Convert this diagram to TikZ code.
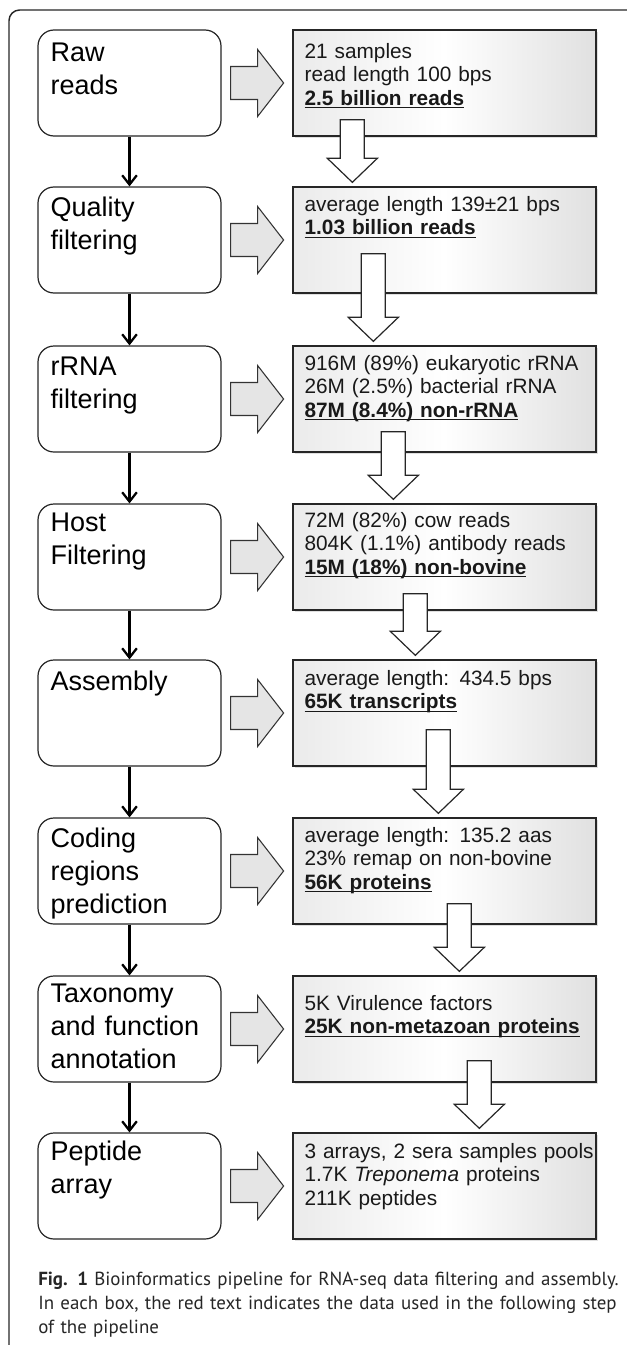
\documentclass[tikz,border=0pt]{standalone}
\usepackage{fontspec}
\setmainfont{Liberation Sans}
\newfontfamily\capfont{PT Sans}
\usetikzlibrary{calc,shadows,arrows.meta}

% bold text with a heavy underline
\newcommand{\keyline}[1]{\leavevmode\setbox0\hbox{\bfseries #1}\rlap{\rule[-2.4pt]{\wd0}{1.1pt}}\box0}
\newcommand{\stepfont}{\fontsize{20.25pt}{24.75pt}\selectfont}
\newcommand{\datafont}{\fontsize{15.6pt}{17.6pt}\selectfont}

\begin{document}
\begin{tikzpicture}[x=0.75pt,y=-0.75pt,
  frame/.style={draw=black!85, line width=1.1pt, rounded corners=8pt},
  stepbox/.style={draw=black!85, line width=0.9pt, rounded corners=12pt,
    minimum width=137.25pt, minimum height=79.5pt, inner sep=0pt, fill=white},
  databox/.style={draw=black!85, line width=1pt,
    minimum width=227.25pt, minimum height=79.5pt, inner sep=0pt,
    left color=black!8, right color=black!12, middle color=white,
    drop shadow={shadow xshift=1.8pt, shadow yshift=-1.8pt, opacity=0.25}},
  steptext/.style={anchor=base west, inner sep=0pt, font=\stepfont,
    text width=130pt, align=left},
  datatext/.style={anchor=base west, inner sep=0pt, font=\datafont,
    text width=260pt, align=left, text=black!90},
  flowarrow/.style={draw=black, line width=1.7pt,
    -{Straight Barb[length=7pt, width=11pt]}},
  grayarrow/.style={fill=black!10, draw=black!80, line width=0.8pt, line join=miter},
  whitearrow/.style={fill=white, draw=black!85, line width=0.9pt, line join=miter}
]
\useasboundingbox (0,0) rectangle (627,1345);

% outer frame, open towards the right and the bottom
\draw[frame] (9,1400) -- (9,10) -- (700,10);

% the eight pipeline steps and their data boxes
\foreach \t [count=\i] in {30,187,346,504,660,818,976,1133}{
  \node[stepbox] (L\i) at (129.5,\t+53) {};
  \node[databox] (R\i) at (444.5,\t+53) {};
}

% step-to-step arrows
\foreach \i in {1,...,7}{
  \pgfmathtruncatemacro{\j}{\i+1}
  \draw[flowarrow] (L\i.south) -- (L\j.north);
}

% grey block arrows from each step to its data box
\foreach \i in {1,...,8}{
  \draw[grayarrow] ($(L\i.east)+(9,-16.5)$) -- ++(27,0) -- ++(0,-17)
    -- ($(L\i.east)+(62,0)$) -- ($(L\i.east)+(36,33.5)$) -- ++(0,-17)
    -- ($(L\i.east)+(9,16.5)$) -- cycle;
}

% white block arrows carrying the data down to the next box
\foreach \i/\dx/\off in {1/60/17,2/81/40,3/101/21,4/123/17,5/146/37,6/167/21,7/187/22}{
  \pgfmathtruncatemacro{\j}{\i+1}
  \draw[whitearrow] ($(R\i.south west)+(\dx-12,-\off)$)
    -- ($(R\i.south west)+(\dx+12,-\off)$)
    -- ($(R\j.north west)+(\dx+12,-28)$)
    -- ($(R\j.north west)+(\dx+25,-28)$)
    -- ($(R\j.north west)+(\dx,-4)$)
    -- ($(R\j.north west)+(\dx-25,-28)$)
    -- ($(R\j.north west)+(\dx-12,-28)$) -- cycle;
}

% step names
\node[steptext] (s1) at ($(L1.north west)+(13,32)$) {Raw\\reads};
\node[steptext] (s2) at ($(L2.north west)+(13,30)$) {Quality\\filtering};
\node[steptext] (s3) at ($(L3.north west)+(13,30)$) {rRNA\\filtering};
\node[steptext] (s4) at ($(L4.north west)+(13,28)$) {Host\\Filtering};
\node[steptext] (s5) at ($(L5.north west)+(13,31)$) {Assembly};
\node[steptext] (s6) at ($(L6.north west)+(13,30)$) {Coding\\regions\\prediction};
\node[steptext] (s7) at ($(L7.north west)+(13,27)$) {Taxonomy\\and function\\annotation};
\node[steptext] (s8) at ($(L8.north west)+(13,28)$) {Peptide\\array};

% data figures
\node[datatext] (d1) at ($(R1.north west)+(12,29)$)
  {21 samples\\read length 100 bps\\\keyline{2.5 billion reads}};
\node[datatext] (d2) at ($(R2.north west)+(12,25)$)
  {average length 139±21 bps\\\keyline{1.03 billion reads}};
\node[datatext] (d3) at ($(R3.north west)+(12,25)$)
  {916M (89\%) eukaryotic rRNA\\26M (2.5\%) bacterial rRNA\\\keyline{87M (8.4\%) non-rRNA}};
\node[datatext] (d4) at ($(R4.north west)+(12,24)$)
  {72M (82\%) cow reads\\804K (1.1\%) antibody reads\\\keyline{15M (18\%) non-bovine}};
\node[datatext] (d5) at ($(R5.north west)+(12,26)$)
  {average length: 434.5 bps\\\keyline{65K transcripts}};
\node[datatext] (d6) at ($(R6.north west)+(12,25)$)
  {average length: 135.2 aas\\23\% remap on non-bovine\\\keyline{56K proteins}};
\node[datatext] (d7) at ($(R7.north west)+(12,35)$)
  {5K Virulence factors\\\keyline{25K non-metazoan proteins}};
\node[datatext] (d8) at ($(R8.north west)+(12,26)$)
  {3 arrays, 2 sera samples pools\\1.7K \textit{Treponema} proteins\\211K peptides};

% caption
\node[anchor=base west, inner sep=0pt, font=\capfont\fontsize{14.2pt}{18pt}\selectfont,
  text width=450pt, align=left, text=black!85] (cap) at (38,1285)
  {\textbf{Fig. 1} Bioinformatics pipeline for RNA-seq data filtering and assembly.\\
   In each box, the red text indicates the data used in the following step\\
   of the pipeline};
\end{tikzpicture}
\end{document}
